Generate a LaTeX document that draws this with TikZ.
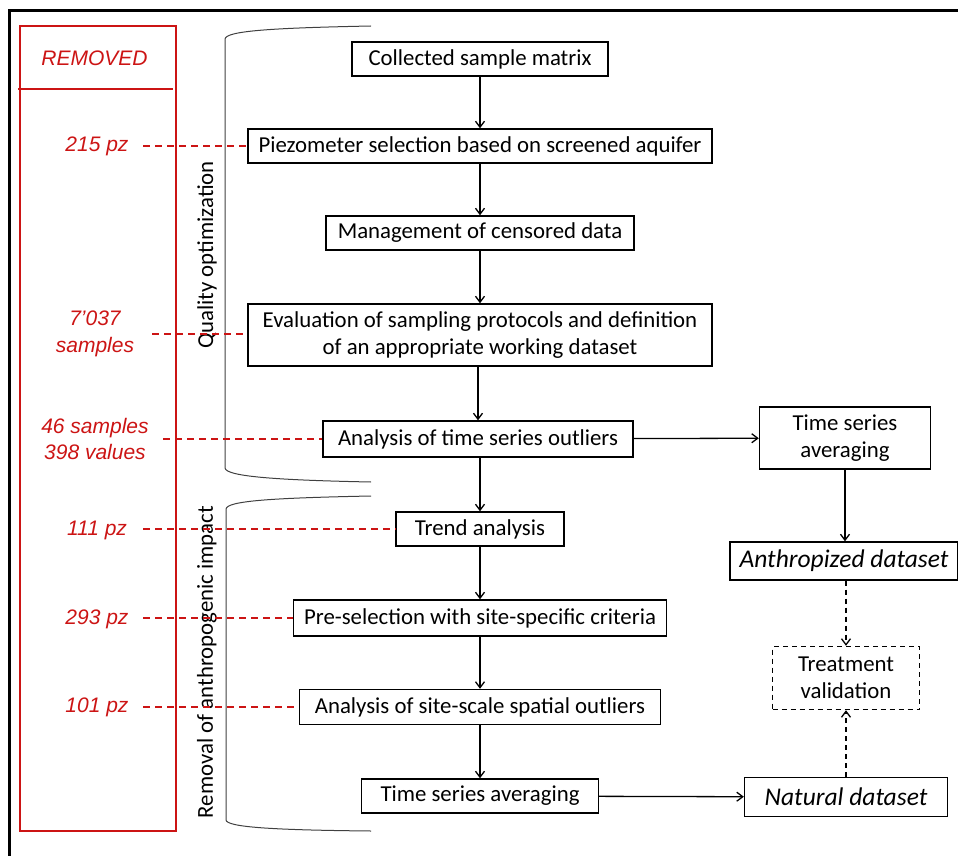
\documentclass[tikz,border=0pt]{standalone}
\usepackage{fontspec}
\setmainfont{Carlito}
\newfontfamily\redfont{Liberation Sans}
\usetikzlibrary{arrows.meta}
\definecolor{redc}{RGB}{204,20,20}
\begin{document}
\begin{tikzpicture}[x=1pt,y=-1pt,
  box/.style={draw, line width=1.4pt, inner sep=0pt, minimum height=34pt, font=\fontsize{22.8}{27.5}\selectfont, align=center},
  dbox/.style={box, dash pattern=on 5pt off 4pt},
  arr/.style={line width=1.3pt, -{Straight Barb[length=6pt,width=9pt]}},
  darr/.style={arr, dash pattern=on 5pt off 4pt},
  redl/.style={draw=redc, line width=1.4pt, dash pattern=on 7pt off 5pt},
  redt/.style={text=redc, font=\redfont\itshape\fontsize{21}{26.5}\selectfont, align=center, inner sep=0pt},
  brace/.style={draw=black!75, line width=1pt},
  side/.style={rotate=90, font=\fontsize{22.8}{26}\selectfont, inner sep=0pt}
]
\useasboundingbox (0,0) rectangle (958,856);
% outer frame
\draw[line width=3pt] (9,870) -- (9,11) -- (970,11);
% red removed column
\draw[draw=redc, line width=1.4pt] (20,26) rectangle (176,831);
\draw[draw=redc, line width=1.4pt] (18,89) -- (173,89);
\node[redt] (removed) at (94.5,58) {REMOVED};
% braces
\draw[brace] (371,26) .. controls (270,28) and (226,31) .. (225,39) -- (225,468) .. controls (226,476) and (270,480) .. (371,482);
\draw[brace] (371,496) .. controls (270,498) and (227,501) .. (226,509) -- (226,820) .. controls (227,827) and (270,830) .. (371,831);
\node[side] (qo) at (207,255) {Quality optimization};
\node[side] (ra) at (207,662) {Removal of anthropogenic impact};
% main boxes
\node[box, minimum width=256pt] (collect) at (480,59) {Collected sample matrix};
\node[box, minimum width=464pt] (piezo) at (480,146) {Piezometer selection based on screened aquifer};
\node[box, minimum width=308pt] (cens) at (480,233) {Management of censored data};
\node[box, minimum width=464pt, minimum height=62pt] (eval) at (480,335) {Evaluation of sampling protocols and definition\\of an appropriate working dataset};
\node[box, minimum width=310pt, minimum height=36pt] (outl) at (478,439) {Analysis of time series outliers};
\node[box, minimum width=171pt, minimum height=62pt] (tsa1) at (845,438) {Time series\\averaging};
\node[box, minimum width=168pt] (trend) at (480,529) {Trend analysis};
\node[box, minimum width=228pt, minimum height=38pt, font=\itshape\fontsize{25.5}{27}\selectfont] (anth) at (844,561) {Anthropized dataset};
\node[box, minimum width=373pt, minimum height=36pt] (pre) at (480,618) {Pre-selection with site-specific criteria};
\node[dbox, minimum width=147pt, minimum height=63pt] (treat) at (846,678) {Treatment\\validation};
\node[box, minimum width=361pt, minimum height=35pt] (spat) at (480,707) {Analysis of site-scale spatial outliers};
\node[box, minimum width=237pt] (tsa2) at (480,796) {Time series averaging};
\node[box, minimum width=203pt, minimum height=39pt, font=\itshape\fontsize{25.5}{27}\selectfont] (nat) at (846,797) {Natural dataset};
% arrows
\draw[arr] (collect) -- (piezo);
\draw[arr] (piezo) -- (cens);
\draw[arr] (cens) -- (eval);
\draw[arr] (eval.south -| outl.north) -- (outl);
\draw[arr] (outl.south -| trend.north) -- (trend);
\draw[arr] (trend) -- (pre);
\draw[arr] (pre) -- (spat);
\draw[arr] (spat) -- (tsa2);
\draw[arr] (outl) -- (tsa1);
\draw[arr] (tsa1.south) -- (tsa1.south |- anth.north);
\draw[arr] (tsa2) -- (nat);
\draw[darr] (anth.south -| treat.north) -- (treat);
\draw[darr] (nat.north -| treat.south) -- (treat);
% red labels
\node[redt] (l1) at (97,146) {215 pz};
\node[redt] (l2) at (95,334) {7’037\\samples};
\node[redt] (l3) at (95,439) {46 samples\\398 values};
\node[redt] (l4) at (97,530) {111 pz};
\node[redt] (l5) at (97,619) {293 pz};
\node[redt] (l6) at (97,707) {101 pz};
\coordinate (c1) at (143,146);
\coordinate (c2) at (152,334);
\coordinate (c3) at (163,439);
\coordinate (c4) at (143,529);
\coordinate (c5) at (143,618);
\coordinate (c6) at (143,707);
\draw[redl] (c1) -- (piezo.west |- c1);
\draw[redl] (c2) -- (eval.west |- c2);
\draw[redl] (c3) -- (outl.west |- c3);
\draw[redl] (c4) -- (trend.west |- c4);
\draw[redl] (c5) -- (pre.west |- c5);
\draw[redl] (c6) -- (spat.west |- c6);
\end{tikzpicture}
\end{document}
